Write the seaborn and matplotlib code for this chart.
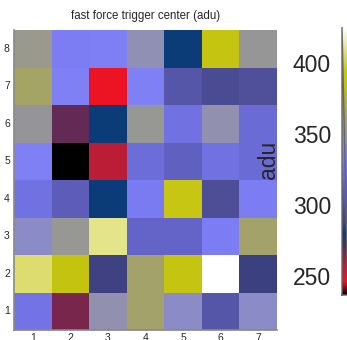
import numpy as np
import pandas as pd
import matplotlib
matplotlib.use("Agg")
import matplotlib.pyplot as plt
import seaborn as sns
from matplotlib.colors import LinearSegmentedColormap
from matplotlib.ticker import MultipleLocator

# Channel grid: columns 1..7, rows 1..8 (listed from row 8 at the top down to row 1)
columns = [1, 2, 3, 4, 5, 6, 7]
rows = [8, 7, 6, 5, 4, 3, 2, 1]
row8 = [354, 334, 337, 345, 280, 388, 352]
row7 = [364, 338, 246, 338, 305, 296, 300]
row6 = [351, 270, 280, 353, 325, 346, 320]
row5 = [338, 237, 258, 322, 312, 325, 320]
row4 = [325, 310, 280, 332, 392, 298, 334]
row3 = [343, 353, 410, 315, 315, 334, 362]
row2 = [406, 387, 288, 362, 388, 425, 287]
row1 = [326, 267, 346, 362, 343, 305, 343]

zmin, zmax = 237, 425
cbar_ticks = [250, 300, 350, 400]

sns.set_theme(style="white")
plt.rcParams["font.family"] = ["Liberation Sans", "DejaVu Sans"]

df = pd.DataFrame([row8, row7, row6, row5, row4, row3, row2, row1],
                  index=rows, columns=columns)

# Palette: black -> red -> purple -> dark blue -> blue -> grey -> olive -> yellow -> white
anchors = [
    (237, (0, 0, 0)),
    (246, (240, 20, 35)),
    (258, (185, 28, 55)),
    (268, (110, 40, 80)),
    (280, (10, 60, 120)),
    (288, (65, 65, 130)),
    (300, (80, 80, 155)),
    (315, (100, 100, 200)),
    (330, (120, 120, 240)),
    (338, (128, 128, 245)),
    (346, (145, 145, 175)),
    (352, (150, 150, 150)),
    (365, (165, 165, 95)),
    (385, (195, 195, 15)),
    (395, (200, 200, 20)),
    (425, (255, 255, 255)),
]
cmap = LinearSegmentedColormap.from_list(
    "trig",
    [((v - zmin) / (zmax - zmin), tuple(c / 255 for c in col)) for v, col in anchors],
)

W, H = 347, 340
fig = plt.figure(figsize=(W / 100, H / 100), dpi=100)
ax = fig.add_axes([14 / W, (H - 330) / H, 263 / W, 300 / H])
cax = fig.add_axes([342 / W, (H - 295) / H, 12 / W, 268 / H])

sns.heatmap(df, ax=ax, cmap=cmap, vmin=zmin, vmax=zmax, cbar=True, cbar_ax=cax,
            linewidths=0, square=False)

ax.set_title("fast force trigger center (adu)", fontsize=8.3, pad=8)
ax.set_xlabel("")
ax.set_ylabel("")
ax.tick_params(axis="x", direction="in", length=10, width=0.9, color="#222222",
               labelsize=7.5, pad=2.5, bottom=True, rotation=0)
ax.tick_params(axis="y", direction="in", length=8.5, width=0.9, color="#222222",
               labelsize=7.5, pad=3, left=True, rotation=0)
for side in ["top", "right"]:
    ax.spines[side].set_visible(False)
for side in ["left", "bottom"]:
    ax.spines[side].set_visible(True)
    ax.spines[side].set_color("#888888")
    ax.spines[side].set_linewidth(1.2)

cb = ax.collections[0].colorbar
cb.outline.set_edgecolor("#666666")
cb.outline.set_linewidth(1.0)
cax.yaxis.set_ticks_position("left")
cax.yaxis.set_label_position("left")
cb.set_ticks(cbar_ticks)
cax.yaxis.set_minor_locator(MultipleLocator(10))
cax.tick_params(axis="y", which="major", direction="in", length=3, width=0.8,
                color="#333333", labelsize=16.5, pad=8)
cax.tick_params(axis="y", which="minor", direction="in", length=1.5, width=0.6,
                color="#333333", left=True)

fig.text(268 / W, 1 - 160 / H, "adu", rotation=90, fontsize=16.5,
         ha="center", va="center")

fig.savefig("out.png", dpi=100)
